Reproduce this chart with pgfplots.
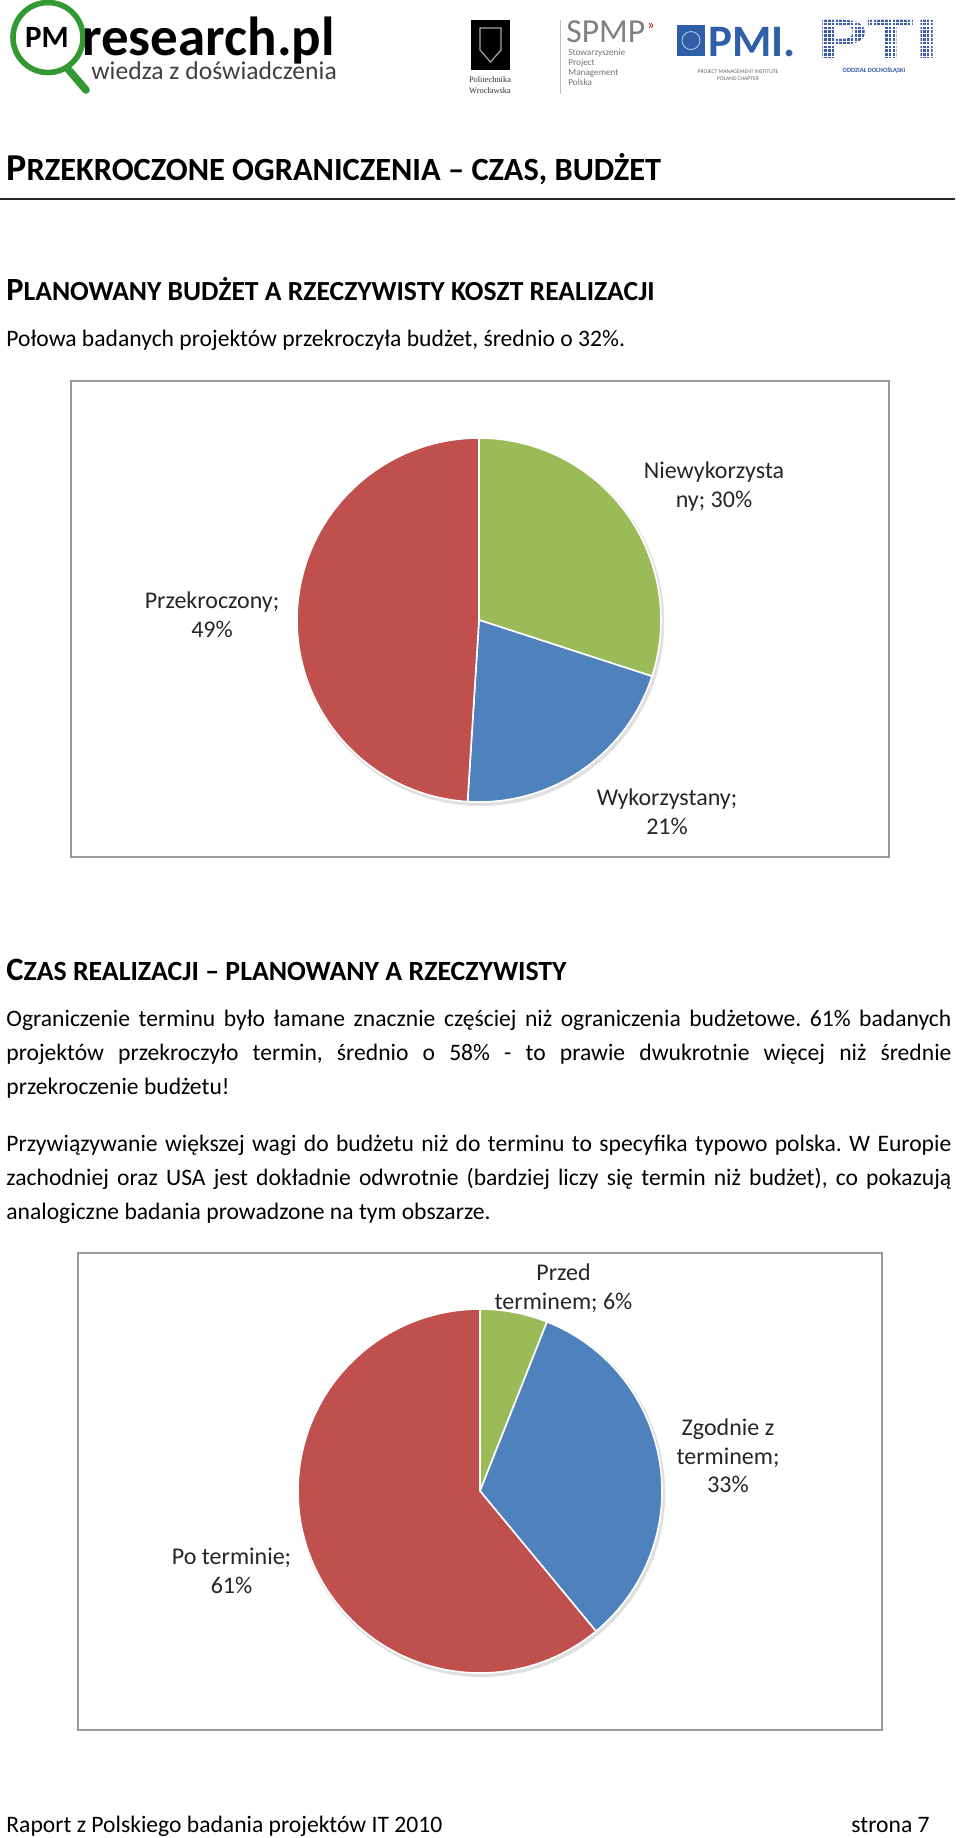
\documentclass[border=0pt]{standalone}
\usepackage{fontspec}
\setmainfont{Carlito}
\newfontfamily\serifface{Liberation Serif}
\usepackage{pgfplots}
\pgfplotsset{compat=1.18}
\usepackage{pgfplotstable}
\frenchspacing

\definecolor{pgreen}{HTML}{9BBB59}
\definecolor{pblue}{HTML}{4F81BD}
\definecolor{pred}{HTML}{C0504D}
\definecolor{logogreen}{HTML}{339933}
\definecolor{pmiblue}{HTML}{2F5FA8}
\definecolor{ptiblue}{HTML}{3A5BA8}

% shares in percent, clockwise from 12 o'clock
\pgfplotstableread{
name share color
Niewykorzystany 30 pgreen
Wykorzystany 21 pblue
Przekroczony 49 pred
}\budzet
\pgfplotstableread{
name share color
Przed 6 pgreen
Zgodnie 33 pblue
Po 61 pred
}\termin

\newcommand\drawpie[2]{%
  \pgfplotstablegetrowsof{#1}%
  \pgfmathtruncatemacro\lastrow{\pgfplotsretval-1}%
  \gdef\cumsum{0}%
  \pgfplotsforeachungrouped \r in {0,...,\lastrow}{%
    \pgfplotstablegetelem{\r}{share}\of{#1}\let\val\pgfplotsretval
    \pgfplotstablegetelem{\r}{color}\of{#1}\let\col\pgfplotsretval
    \pgfmathsetmacro\sa{90-3.6*\cumsum}%
    \pgfmathsetmacro\ea{90-3.6*(\cumsum+\val)}%
    \pgfmathsetmacro\newcum{\cumsum+\val}%
    \xdef\cumsum{\newcum}%
    \edef\cmd{\noexpand\fill[fill=\col, draw=white, line width=0.8pt, line join=round] (axis cs:0,0) -- ++(\sa:#2) arc[start angle=\sa, end angle=\ea, radius=#2] -- cycle;}%
    \cmd
  }%
}

\newcommand\smc[4]{{\bfseries\fontsize{#1}{#1}\selectfont #3}{\bfseries\fontsize{#2}{#2}\selectfont #4}}

\begin{document}
\begin{tikzpicture}[
  body/.style={anchor=base west, inner sep=0, font=\fontsize{11.8}{17}\selectfont},
  lab/.style={align=center, inner sep=0, font=\fontsize{12}{14.25}\selectfont, text=black!85},
  tiny/.style={anchor=base west, inner sep=0, font=\fontsize{4.6}{4.6}\selectfont, text=black!55},
]
\fill[white] (0,0) rectangle (480pt,-919pt);
\useasboundingbox (0,0) rectangle (480pt,-919pt);

% ---------- header logos ----------
\draw[logogreen, line width=2.8pt] (24pt,-18.75pt) circle[radius=17.5pt];
\draw[logogreen, line width=3.8pt, line cap=round] (34pt,-34.5pt) -- (43pt,-45pt);
\node[inner sep=0, font=\bfseries\fontsize{15.5}{15.5}\selectfont] at (23.5pt,-18.5pt) {PM};
\node[anchor=base west, inner sep=0, font=\bfseries\fontsize{27.5}{27.5}\selectfont] at (41pt,-27.5pt) {research.pl};
\node[anchor=base west, inner sep=0, font=\fontsize{12.8}{12.8}\selectfont, text=black!75] at (45.5pt,-39.5pt) {wiedza z doświadczenia};

% Politechnika Wroclawska
\fill[black] (235.5pt,-10pt) rectangle (255pt,-35pt);
\draw[black!35, line width=0.6pt] (240pt,-14pt) -- (250.5pt,-14pt) -- (250.5pt,-25pt) -- (245.25pt,-31pt) -- (240pt,-25pt) -- cycle;
\node[inner sep=0, align=center, font=\serifface\fontsize{4.2}{5.4}\selectfont, text=black!80] at (245pt,-42.5pt) {Politechnika\\Wrocławska};

% SPMP
\draw[black!25, line width=0.5pt] (280pt,-10pt) -- (280pt,-47pt);
\node[anchor=base west, inner sep=0, font=\fontsize{16.8}{16.8}\selectfont, text=black!50] at (283pt,-21.4pt) {SPMP};
\node[anchor=base west, inner sep=0, font=\fontsize{7}{7}\selectfont, text=red!75!black] at (323.5pt,-14.5pt) {»};
\node[tiny] at (284pt,-27.5pt) {Stowarzyszenie};
\node[tiny] at (284pt,-32.5pt) {Project};
\node[tiny] at (284pt,-37.5pt) {Management};
\node[tiny] at (284pt,-42.5pt) {Polska};

% PMI
\fill[pmiblue] (338.5pt,-12.5pt) rectangle (352.5pt,-28pt);
\draw[white!70!pmiblue, line width=0.4pt] (345.5pt,-20.25pt) circle[radius=4.5pt];
\node[anchor=base west, inner sep=0, font=\bfseries\fontsize{22.5}{22.5}\selectfont, text=pmiblue] at (354pt,-28pt) {PMI.};
\node[inner sep=0, align=center, font=\fontsize{2.8}{3.4}\selectfont, text=black!60] at (369pt,-37.5pt) {PROJECT MANAGEMENT INSTITUTE\\POLAND CHAPTER};

% PTI
\node[anchor=base west, inner sep=0, font=\bfseries\fontsize{29.5}{29.5}\selectfont, text=ptiblue] at (408.5pt,-29pt) {\scalebox{1.6}[1]{PTI}};
\foreach \k in {0,...,11} {\draw[white, line width=0.55pt] (407pt,-9.2pt-\k*1.9pt) -- (468pt,-9.2pt-\k*1.9pt);}
\foreach \k in {0,...,32} {\draw[white, line width=0.55pt] (408pt+\k*1.9pt,-8pt) -- (408pt+\k*1.9pt,-30.5pt);}
\node[inner sep=0, font=\bfseries\fontsize{3.2}{3.2}\selectfont, text=ptiblue] at (437pt,-35pt) {ODDZIAŁ DOLNOŚLĄSKI};

% ---------- headings and text ----------
\node[anchor=base west, inner sep=0] at (3pt,-90pt) {\smc{19}{16.2}{P}{RZEKROCZONE OGRANICZENIA – CZAS, BUDŻET}};
\draw[black!85, line width=0.75pt] (0,-99.5pt) -- (477.5pt,-99.5pt);
\node[anchor=base west, inner sep=0] at (3pt,-150pt) {\smc{16.2}{13.8}{P}{LANOWANY BUDŻET A RZECZYWISTY KOSZT REALIZACJI}};
\node[body] at (3pt,-173pt) {Połowa badanych projektów przekroczyła budżet, średnio o 32\%.};

\node[anchor=base west, inner sep=0] at (3pt,-490pt) {\smc{16.3}{13.9}{C}{ZAS REALIZACJI – PLANOWANY A RZECZYWISTY}};
\node[body] at (3pt,-513pt) {\makebox[472.5pt][s]{Ograniczenie terminu było łamane znacznie częściej niż ograniczenia budżetowe. 61\% badanych}};
\node[body] at (3pt,-530pt) {\makebox[472.5pt][s]{projektów przekroczyło termin, średnio o 58\% - to prawie dwukrotnie więcej niż średnie}};
\node[body] at (3pt,-547pt) {przekroczenie budżetu!};
\node[body] at (3pt,-575.5pt) {\makebox[472.5pt][s]{Przywiązywanie większej wagi do budżetu niż do terminu to specyfika typowo polska. W Europie}};
\node[body] at (3pt,-592.5pt) {\makebox[472.5pt][s]{zachodniej oraz USA jest dokładnie odwrotnie (bardziej liczy się termin niż budżet), co pokazują}};
\node[body] at (3pt,-609.5pt) {analogiczne badania prowadzone na tym obszarze.};

\node[body] at (3pt,-916pt) {Raport z Polskiego badania projektów IT 2010};
\node[body, anchor=base east] at (465pt,-916pt) {strona 7};

% ---------- pie 1 ----------
\begin{axis}[
  at={(35.5pt,-428.5pt)}, anchor=south west,
  x=0.5pt, y=0.5pt,
  xmin=-408, xmax=410, ymin=-237, ymax=239,
  xtick=\empty, ytick=\empty,
  axis line style={draw=black!40, line width=0.8pt},
  clip=false,
]
\fill[black!12] ([shift={(0.8pt,-1.2pt)}]axis cs:0,0) circle[radius=91.8pt];
\drawpie{\budzet}{91pt}
\node[lab] at (axis cs:235,133.5) {Niewykorzysta\\ny; 30\%};
\node[lab] at (axis cs:-267,5) {Przekroczony;\\49\%};
\node[lab] at (axis cs:188,-192) {Wykorzystany;\\21\%};
\end{axis}

% ---------- pie 2 ----------
\begin{axis}[
  at={(39pt,-865pt)}, anchor=south west,
  x=0.5pt, y=0.5pt,
  xmin=-402, xmax=402, ymin=-239, ymax=238,
  xtick=\empty, ytick=\empty,
  axis line style={draw=black!40, line width=0.8pt},
  clip=false,
]
\fill[black!12] ([shift={(0.8pt,-1.2pt)}]axis cs:0,0) circle[radius=91.8pt];
\drawpie{\termin}{91pt}
\node[lab] at (axis cs:83.5,203) {Przed\\terminem; 6\%};
\node[lab] at (axis cs:248,35) {Zgodnie z\\terminem;\\33\%};
\node[lab] at (axis cs:-248.5,-80) {Po terminie;\\61\%};
\end{axis}
\end{tikzpicture}
\end{document}
